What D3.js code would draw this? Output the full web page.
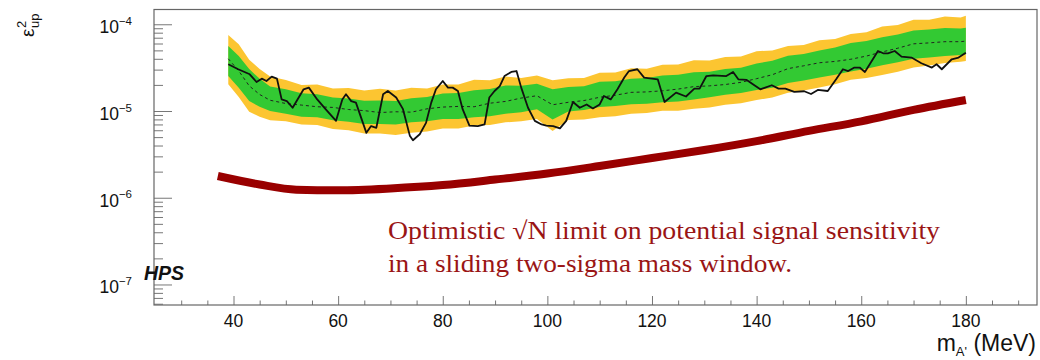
<!DOCTYPE html>
<html>
<head>
<meta charset="utf-8">
<script src="https://cdn.jsdelivr.net/npm/d3@7"></script>
<style>
  body { margin: 0; background: #fff; }
  svg { display: block; font-family: "Liberation Sans", Arial, sans-serif; }
</style>
</head>
<body>
<div id="chart"></div>
<script>
'use strict';

// all limits below are in units of 1e-5 (epsilon^2)
const UNIT = 1e-5;

const bandMass = [39, 41, 43, 45, 47, 50, 53, 56, 59, 62, 65, 68, 71, 74, 77, 80, 83, 86, 89, 92,
  95, 98, 101, 104, 107, 110, 113, 116, 119, 122, 125, 128, 131, 134, 137, 140, 143, 146, 149, 152,
  155, 158, 161, 164, 167, 170, 173, 176, 179, 180];
const yellowHi = [7.5, 5.9, 3.9, 3.05, 2.5, 2.28, 2.0, 2.02, 1.82, 1.84, 1.72, 1.80, 1.72, 1.86, 1.82, 2.02, 2.02, 2.30, 2.26, 2.50,
  2.40, 2.56, 2.26, 2.38, 2.40, 2.76, 2.78, 3.12, 3.08, 3.42, 3.44, 3.86, 3.82, 4.20, 4.26, 4.90, 4.98, 5.62, 5.76, 6.55,
  6.75, 7.7, 8.1, 9.4, 9.8, 11.3, 11.3, 12.3, 12.0, 12.5];
const greenHi = [5.6, 4.3, 3.05, 2.35, 1.92, 1.78, 1.60, 1.56, 1.43, 1.39, 1.31, 1.32, 1.30, 1.40, 1.45, 1.59, 1.61, 1.73, 1.79, 1.97,
  1.96, 2.06, 1.78, 1.89, 1.93, 2.18, 2.20, 2.35, 2.40, 2.57, 2.61, 2.80, 2.84, 3.05, 3.16, 3.54, 3.80, 4.35, 4.55, 4.98,
  5.38, 6.1, 6.4, 7.1, 7.6, 8.5, 8.7, 9.05, 8.95, 9.1];
const expected = [4.0, 2.9, 1.95, 1.55, 1.33, 1.22, 1.17, 1.12, 1.10, 1.04, 1.01, 0.96, 0.98, 0.97, 1.06, 1.11, 1.13, 1.12, 1.23, 1.29,
  1.41, 1.50, 1.18, 1.26, 1.32, 1.44, 1.52, 1.64, 1.66, 1.71, 1.79, 1.91, 1.95, 2.02, 2.14, 2.36, 2.62, 3.08, 3.32, 3.60,
  3.73, 3.95, 4.30, 4.80, 5.30, 5.95, 6.10, 6.30, 6.30, 6.4];
const greenLo = [2.53, 1.85, 1.30, 1.12, 1.0, 0.93, 0.86, 0.85, 0.78, 0.75, 0.71, 0.71, 0.70, 0.74, 0.76, 0.81, 0.81, 0.85, 0.87, 0.93,
  0.97, 1.05, 0.80, 0.99, 1.03, 1.11, 1.14, 1.20, 1.21, 1.26, 1.29, 1.36, 1.44, 1.54, 1.61, 1.75, 1.86, 2.10, 2.25, 2.44,
  2.61, 2.86, 3.08, 3.38, 3.64, 4.0, 4.15, 4.32, 4.42, 4.5];
const yellowLo = [2.03, 1.45, 0.98, 0.86, 0.78, 0.76, 0.70, 0.69, 0.62, 0.60, 0.55, 0.55, 0.53, 0.56, 0.58, 0.63, 0.63, 0.68, 0.69, 0.74,
  0.76, 0.81, 0.59, 0.79, 0.80, 0.85, 0.87, 0.93, 0.95, 1.01, 1.01, 1.06, 1.10, 1.18, 1.23, 1.34, 1.43, 1.62, 1.72, 1.87,
  2.04, 2.30, 2.40, 2.60, 2.84, 3.17, 3.35, 3.58, 3.70, 3.77];

const obsMass = [39, 40.9, 43.1, 44.4, 45.4, 46.3, 47.3, 48.3, 49.2, 50.2, 51.3, 53.4, 54.4, 56, 57.6, 59.6, 60.8, 61.5, 62.5, 63.4,
  65.4, 66.3, 67.3, 68.6, 69.5, 71.1, 72.4, 73.7, 74.3, 75.6, 76.8, 77.8, 78.7, 80, 81, 81.9, 82.9, 83.8, 85.1, 86.7,
  88, 88.9, 89.9, 90.9, 91.8, 93.1, 94.1, 95, 96.3, 97.6, 98.9, 99.8, 101.1, 102.4, 103.6, 104.9, 106.2, 107.5, 108.7, 110,
  110.8, 112.1, 113.4, 114.7, 115.6, 117.2, 118.5, 121.1, 122.4, 124.6, 126.5, 128.1, 129.1, 130.4, 131.7, 134.2, 135.5, 136.5, 138.1, 140.7,
  142.9, 144.2, 145.5, 147.2, 149.1, 150.4, 151.7, 153.6, 155.2, 156.5, 157.5, 158.7, 159.7, 160.7, 163.2, 164.2, 165.1, 166.4, 167.7, 169.6,
  171.5, 173.5, 174.4, 175.4, 177.3, 178.6, 180];
const obsLimit = [3.46, 3.03, 2.65, 2.16, 2.36, 2.22, 2.49, 2.36, 1.36, 1.30, 1.09, 1.78, 1.86, 1.36, 1.05, 0.77, 1.36, 1.56, 1.30, 1.25,
  0.56, 0.67, 0.64, 1.56, 1.70, 1.43, 1.05, 0.52, 0.46, 0.54, 0.73, 1.25, 1.78, 2.22, 1.86, 1.86, 1.70, 1.05, 0.68, 0.67,
  0.70, 1.43, 1.70, 1.94, 2.53, 2.82, 2.89, 1.86, 1.09, 0.77, 0.70, 0.68, 0.67, 0.63, 0.77, 1.27, 1.09, 1.19, 1.07, 1.19,
  1.49, 1.36, 1.78, 2.43, 2.89, 3.03, 2.43, 2.32, 1.27, 1.63, 1.47, 1.81, 1.81, 2.53, 2.58, 2.53, 2.82, 2.32, 2.28, 1.78,
  1.98, 1.81, 1.81, 1.66, 1.69, 1.57, 1.75, 1.70, 2.32, 3.03, 2.89, 3.17, 3.17, 2.82, 4.92, 4.63, 4.63, 4.92, 4.24, 4.13,
  3.55, 3.17, 3.46, 3.03, 3.95, 4.13, 4.7];

const sqrtNMass = [37, 45, 52, 60, 70, 80, 90, 100, 110, 120, 130, 140, 150, 160, 170, 180];
const sqrtNLimit = [0.178, 0.142, 0.124, 0.122, 0.128, 0.140, 0.162, 0.190, 0.232, 0.287, 0.355, 0.45, 0.59, 0.76, 1.03, 1.34];

const xTicks = [40, 60, 80, 100, 120, 140, 160, 180];
const yTickExp = [-4, -5, -6, -7];

const noteLines = [
  'Optimistic \u221AN limit on potential signal sensitivity',
  'in a sliding two-sigma mass window.'
];

function drawChart() {
  let svg = d3.select('#chart').append('svg').attr('width', 1040).attr('height', 360);

  let x = d3.scaleLinear().domain([24.8, 193.6]).range([154, 1037]);
  let y = d3.scaleLog().domain([5.8e-8, 1.48e-4]).range([305, 9.5]);
  let idx = d3.range(bandMass.length);

  let band = (lo, hi) => d3.area()
    .x(i => x(bandMass[i])).y0(i => y(lo[i] * UNIT)).y1(i => y(hi[i] * UNIT));

  svg.append('path').datum(idx).attr('d', band(yellowLo, yellowHi)).attr('fill', '#fcc531');
  svg.append('path').datum(idx).attr('d', band(greenLo, greenHi)).attr('fill', '#33c933');

  svg.append('path').datum(idx)
    .attr('d', d3.line().x(i => x(bandMass[i])).y(i => y(expected[i] * UNIT)))
    .attr('fill', 'none').attr('stroke', '#222').attr('stroke-width', 1).attr('stroke-dasharray', '3,3');

  svg.append('path').datum(d3.range(obsMass.length))
    .attr('d', d3.line().x(i => x(obsMass[i])).y(i => y(obsLimit[i] * UNIT)))
    .attr('fill', 'none').attr('stroke', '#111').attr('stroke-width', 1.8).attr('stroke-linejoin', 'round');

  svg.append('path').datum(d3.range(sqrtNMass.length))
    .attr('d', d3.line().curve(d3.curveMonotoneX).x(i => x(sqrtNMass[i])).y(i => y(sqrtNLimit[i] * UNIT)))
    .attr('fill', 'none').attr('stroke', '#990000').attr('stroke-width', 8);

  // axes: ticks point inward, ROOT style
  let xMinor = d3.range(30, 194, 5).filter(v => v % 20 !== 0);
  let yMinor = [];
  for (let e = -8; e <= -4; e++) {
    for (let k = 2; k <= 9; k++) {
      let v = k * Math.pow(10, e);
      if (v > y.domain()[0] && v < y.domain()[1]) yMinor.push(v);
    }
  }
  let yMajor = yTickExp.map(e => Math.pow(10, e));

  let axes = [
    [d3.axisBottom(x).tickValues(xTicks).tickSizeInner(-9), 'translate(0,305)'],
    [d3.axisBottom(x).tickValues(xMinor).tickSizeInner(-4.5), 'translate(0,305)'],
    [d3.axisLeft(y).tickValues(yMajor).tickSizeInner(-18), 'translate(154,0)'],
    [d3.axisLeft(y).tickValues(yMinor).tickSizeInner(-9), 'translate(154,0)']
  ];
  axes.forEach(a => {
    let g = svg.append('g').attr('transform', a[1])
      .call(a[0].tickSizeOuter(0).tickFormat(''));
    g.select('.domain').remove();
    g.selectAll('line').attr('stroke', '#777');
  });

  svg.append('rect').attr('x', 154).attr('y', 9.5).attr('width', 883).attr('height', 295.5)
    .attr('fill', 'none').attr('stroke', '#666').attr('stroke-width', 1.2);

  svg.selectAll('.xlab').data(xTicks).enter().append('text').classed('xlab', true)
    .attr('x', d => x(d)).attr('y', 327).attr('text-anchor', 'middle')
    .style('font-size', '17.5px').attr('fill', '#111').text(d => d);

  yTickExp.forEach(e => {
    let t = svg.append('text').attr('x', 132).attr('y', y(Math.pow(10, e)) + 9)
      .attr('text-anchor', 'end').attr('fill', '#111').style('font-size', '17.5px');
    t.append('tspan').text('10');
    t.append('tspan').attr('dy', -8.3).style('font-size', '11.5px').text('\u2212' + Math.abs(e));
  });

  let title = svg.append('text').attr('x', 1036).attr('y', 351).attr('text-anchor', 'end')
    .attr('fill', '#111').style('font-size', '23px');
  title.append('tspan').text('m');
  title.append('tspan').attr('dy', 5).style('font-size', '13px').text('A\'');
  title.append('tspan').attr('dy', -5).text(' (MeV)');

  let ylab = svg.append('text').attr('transform', 'translate(34,37) rotate(-90)')
    .attr('fill', '#111').style('font-size', '19px');
  ylab.append('tspan').text('\u03B5');
  ylab.append('tspan').attr('x', 9).attr('dy', -8).style('font-size', '13px').text('2');
  ylab.append('tspan').attr('x', 9).attr('dy', 13).style('font-size', '13px').text('up');

  svg.append('text').attr('x', 144).attr('y', 280)
    .style('font-size', '19.5px').style('font-weight', 'bold').style('font-style', 'italic')
    .attr('fill', '#111').text('HPS');

  svg.selectAll('.note').data(noteLines).enter().append('text').classed('note', true)
    .attr('x', 388).attr('y', (d, i) => 239 + i * 33)
    .attr('textLength', (d, i) => i === 0 ? 552 : 404).attr('lengthAdjust', 'spacingAndGlyphs')
    .style('font-family', '"Liberation Serif", "DejaVu Serif", serif').style('font-size', '25px')
    .attr('fill', '#9a1515').text(d => d);
}

drawChart();
</script>
</body>
</html>
